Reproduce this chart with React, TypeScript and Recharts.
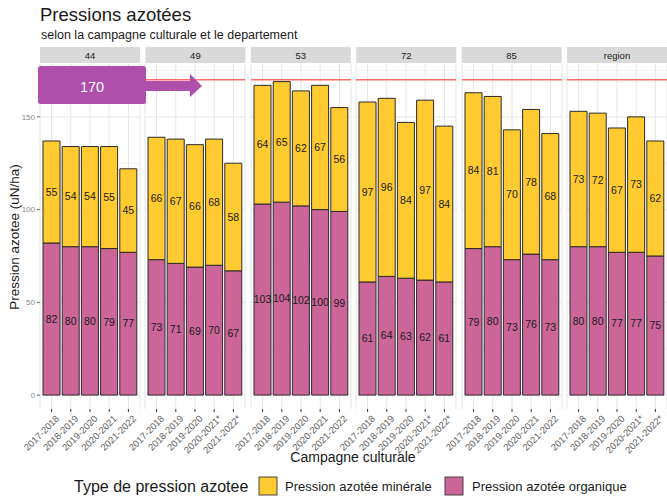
import React from 'react';
import { BarChart, Bar, XAxis, YAxis, CartesianGrid, ReferenceLine, LabelList } from 'recharts';

const departements = ['44', '49', '53', '72', '85', 'region'];
const campagnes = ['2017-2018', '2018-2019', '2019-2020', '2020-2021', '2021-2022'];
// panels whose last two campaigns carry an asterisk
const avecEtoile = ['49', '72', 'region'];

// one row per departement, in the order above
const pressionOrganique: number[][] = [
  [82, 80, 80, 79, 77],
  [73, 71, 69, 70, 67],
  [103, 104, 102, 100, 99],
  [61, 64, 63, 62, 61],
  [79, 80, 73, 76, 73],
  [80, 80, 77, 77, 75],
];
const pressionMinerale: number[][] = [
  [55, 54, 54, 55, 45],
  [66, 67, 66, 68, 58],
  [64, 65, 62, 67, 56],
  [97, 96, 84, 97, 84],
  [84, 81, 70, 78, 68],
  [73, 72, 67, 73, 62],
];
const seuil = 170;
const yTicks = [0, 50, 100, 150];
const yMinor = [25, 75, 125, 175];

const JAUNE = '#FFCB30';
const ROSE = '#CC6699';
const FONT = '"Liberation Sans", Arial, sans-serif';

const PANEL_W = 100;
const PANEL_GAP = 5.4;
const PANEL_LEFT = 40;
const PLOT_TOP = 64;
const PLOT_BOTTOM = 409;
const EXTRA_LEFT = 40;

const RotatedTick = (props: any) => {
  const { x, y, payload } = props;
  return (
    <g transform={`translate(${x + 4},${y + 1})`}>
      <text transform="rotate(-45)" textAnchor="end" dy={6} fontSize={9.5} fill="#606060" fontFamily={FONT}>
        {payload.value}
      </text>
    </g>
  );
};

const Panel = ({ index }: { index: number }) => {
  const dep = departements[index];
  const data = campagnes.map((c, i) => ({
    campagne: i >= 3 && avecEtoile.includes(dep) ? c + '*' : c,
    organique: pressionOrganique[index][i],
    minerale: pressionMinerale[index][i],
  }));
  const first = index === 0;
  const yWidth = 30;
  const left = PANEL_LEFT + index * (PANEL_W + PANEL_GAP) - EXTRA_LEFT;
  return (
    <div style={{ position: 'absolute', left, top: 0 }}>
      <BarChart
        width={EXTRA_LEFT + PANEL_W + 4}
        height={500}
        data={data}
        barSize={17}
        margin={{ top: PLOT_TOP, right: 4, bottom: 500 - PLOT_BOTTOM - 40, left: first ? EXTRA_LEFT - yWidth : EXTRA_LEFT }}
      >
        <CartesianGrid stroke="#f3f3f3" vertical={false} horizontalValues={yMinor} />
        <CartesianGrid stroke="#e6e6e6" horizontalValues={yTicks} />
        <XAxis
          dataKey="campagne"
          interval={0}
          height={40}
          axisLine={false}
          tickLine={{ stroke: '#333' }}
          tickSize={3}
          padding={{ left: 2, right: 2 }}
          tick={<RotatedTick />}
        />
        <YAxis
          hide={!first}
          width={yWidth}
          domain={[-7.5, 178.5]}
          allowDataOverflow
          ticks={yTicks}
          axisLine={false}
          tickLine={{ stroke: '#666' }}
          tickSize={3}
          tickMargin={2}
          tick={{ fontSize: 8, fill: '#8a8a8a', fontFamily: FONT }}
        />
        <ReferenceLine y={seuil} stroke="#FF6A6A" strokeWidth={1.3} />
        <Bar dataKey="organique" stackId="a" fill={ROSE} stroke="#2a2a2a" strokeWidth={1} isAnimationActive={false}>
          <LabelList dataKey="organique" position="center" fontSize={10.5} fill="#1a1a1a" fontFamily={FONT} />
        </Bar>
        <Bar dataKey="minerale" stackId="a" fill={JAUNE} stroke="#2a2a2a" strokeWidth={1} isAnimationActive={false}>
          <LabelList dataKey="minerale" position="center" fontSize={10.5} fill="#1a1a1a" fontFamily={FONT} />
        </Bar>
      </BarChart>
    </div>
  );
};

export default function App() {
  return (
    <div style={{ position: 'absolute', left: 0, top: 0, width: 667, height: 500, background: '#fff', fontFamily: FONT, overflow: 'hidden' }}>
      {departements.map((d, i) => (
        <Panel key={d} index={i} />
      ))}
      <svg width={667} height={500} style={{ position: 'absolute', left: 0, top: 0, pointerEvents: 'none' }} fontFamily={FONT}>
        <text x={40} y={21} fontSize={18.5} fill="#1a1a1a">Pressions azotées</text>
        <text x={41} y={39} fontSize={12.5} fill="#1a1a1a">selon la campagne culturale et le departement</text>
        {departements.map((d, i) => {
          const x = PANEL_LEFT + i * (PANEL_W + PANEL_GAP);
          return (
            <g key={d}>
              <rect x={x} y={47} width={PANEL_W} height={16} fill="#d9d9d9" />
              <text x={x + PANEL_W / 2} y={58.5} textAnchor="middle" fontSize={9.5} fill="#1a1a1a">{d}</text>
            </g>
          );
        })}
        {/* annotation du seuil */}
        <rect x={38} y={66} width={108} height={38} rx={2.5} fill="#B04EAB" />
        <rect x={145} y={81} width={46} height={10} fill="#B04EAB" />
        <polygon points="190,74 202,86 190,97" fill="#B04EAB" />
        <text x={92} y={92} textAnchor="middle" fontSize={14.5} fill="#fff">{seuil}</text>
        <text x={14} y={237} transform="rotate(-90, 14, 237)" textAnchor="middle" dy={5} fontSize={13.5} fill="#1a1a1a">
          Pression azotee (uN/ha)
        </text>
        <text x={353} y={462} textAnchor="middle" fontSize={14} fill="#1a1a1a">Campagne culturale</text>
        <text x={74} y={492} fontSize={16} fill="#1a1a1a">Type de pression azotee</text>
        <rect x={259} y={477} width={18} height={18} fill={JAUNE} stroke="#444" strokeWidth={1} />
        <text x={285} y={491} fontSize={13} fill="#1a1a1a">Pression azotée minérale</text>
        <rect x={445} y={477} width={18} height={18} fill={ROSE} stroke="#444" strokeWidth={1} />
        <text x={472} y={491} fontSize={13} fill="#1a1a1a">Pression azotée organique</text>
      </svg>
    </div>
  );
}
